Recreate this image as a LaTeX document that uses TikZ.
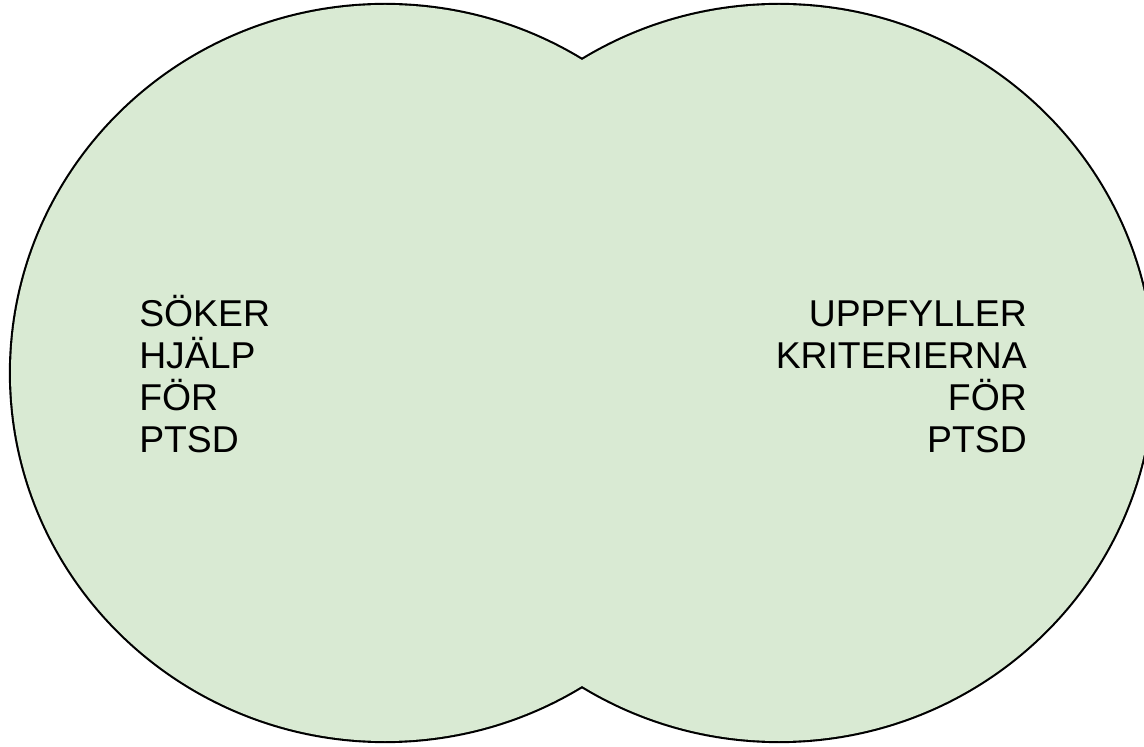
\documentclass[tikz,border=0pt]{standalone}
\usepackage{fontspec}
\setmainfont{Liberation Sans}
\usepackage{xcolor}
\usetikzlibrary{positioning}
\definecolor{setgreen}{HTML}{D9EAD3}

\begin{document}
\begin{tikzpicture}[x=0.75pt, y=0.75pt]
    % Define styles
    \tikzstyle{setrim} = [draw=black, line width=3.2pt]
    \tikzstyle{setfill} = [fill=setgreen]
    \tikzstyle{settext} = [inner sep=0pt, font=\fontsize{28}{31.5}\selectfont]

    \useasboundingbox (0,0) rectangle (1144,746);

    % Outline (inner half of the stroke is covered by the fill)
    \draw [setrim] (385,373) ellipse [x radius=374, y radius=368];
    \draw [setrim] (779,373) ellipse [x radius=374, y radius=368];

    % Fill
    \fill [setfill] (385,373) ellipse [x radius=374, y radius=368];
    \fill [setfill] (779,373) ellipse [x radius=374, y radius=368];

    % Texts (base anchor sits on the last line)
    \node [settext, align=left, anchor=base west] (seeking) at (139,293) {SÖKER\\HJÄLP\\FÖR\\PTSD};
    \node [settext, align=right, anchor=base east] (criteria) at (1027,293) {UPPFYLLER\\KRITERIERNA\\FÖR\\PTSD};
\end{tikzpicture}
\end{document}
